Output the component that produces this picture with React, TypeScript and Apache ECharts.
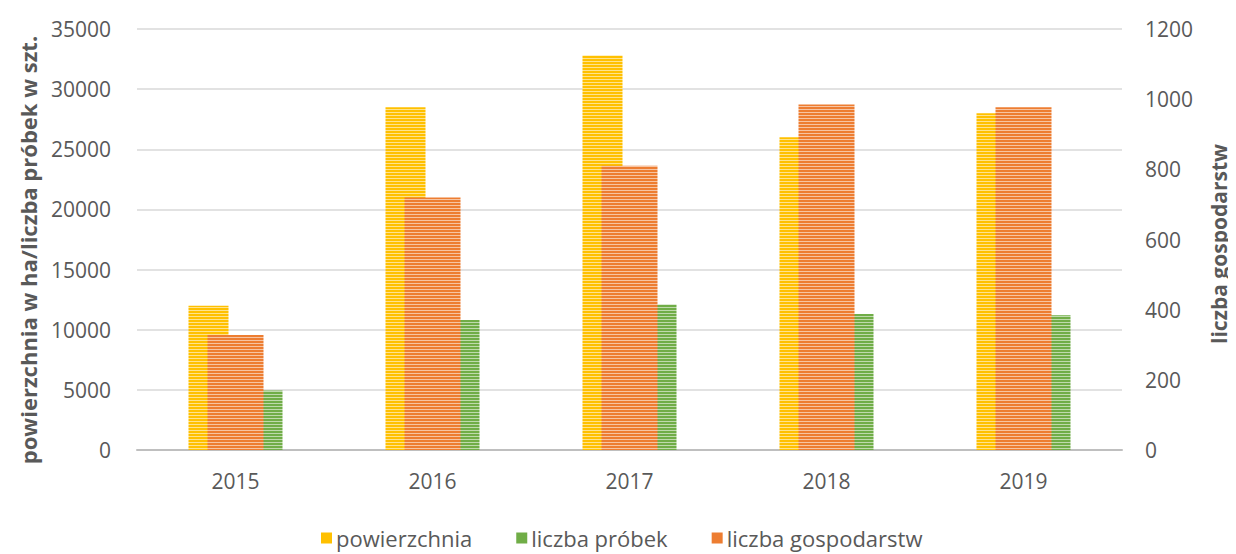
import React, { useEffect, useRef } from "react";
import * as echarts from "echarts";

const categories = ["2015", "2016", "2017", "2018", "2019"];
const powierzchnia = [12000, 28500, 32800, 26000, 28000];
const liczbaProbek = [4950, 10800, 12100, 11300, 11200];
const liczbaGospodarstw = [328, 720, 810, 985, 977];
const leftTicks = { min: 0, max: 35000, interval: 5000 };
const rightTicks = { min: 0, max: 1200, interval: 200 };
const leftAxisName = "powierzchnia w ha/liczba próbek w szt.";
const rightAxisName = "liczba gospodarstw";

const FONT = "'Open Sans', sans-serif";
const GREY = "#595959";
const YELLOW = "#FFC000";
const GREEN = "#70AD47";
const ORANGE = "#ED7D31";

function stripePattern(c: string) {
  const cv = document.createElement("canvas");
  cv.width = 4;
  cv.height = 3;
  const ctx = cv.getContext("2d")!;
  ctx.fillStyle = c;
  ctx.fillRect(0, 0, 4, 3);
  ctx.fillStyle = "rgba(255,255,255,0.55)";
  ctx.fillRect(0, 2, 4, 1);
  return { image: cv.toDataURL(), repeat: "repeat" };
}

export default function App() {
  const ref = useRef<HTMLDivElement>(null);
  useEffect(() => {
    if (!ref.current) return;
    const chart = echarts.init(ref.current, undefined, { renderer: "svg" });
    const fmt = (v: number) => String(v);
    const nameStyle = (text: string, size: number) => ({
      text,
      fill: GREY,
      font: `bold ${size}px ${FONT}`,
      fontFamily: FONT,
      fontSize: size,
      fontWeight: "bold",
      align: "center",
      verticalAlign: "middle",
      textAlign: "center",
      textVerticalAlign: "middle",
    });
    chart.setOption({
      animation: false,
      textStyle: { fontFamily: FONT },
      grid: { left: 129, right: 114, top: 21, bottom: 104 },
      graphic: [
        { type: "text", x: 20, y: 242, rotation: Math.PI / 2, style: nameStyle(leftAxisName, 22) },
        { type: "text", x: 1211, y: 236, rotation: Math.PI / 2, style: nameStyle(rightAxisName, 21) },
      ],
      legend: {
        top: 514,
        left: 308,
        itemWidth: 11,
        itemHeight: 11,
        itemGap: 44,
        icon: "rect",
        textStyle: { fontFamily: FONT, fontSize: 22, color: GREY, padding: [0, 0, 0, -1] },
        data: [
          { name: "powierzchnia", itemStyle: { color: YELLOW } },
          { name: "liczba próbek", itemStyle: { color: GREEN } },
          { name: "liczba gospodarstw", itemStyle: { color: ORANGE } },
        ],
      },
      xAxis: [
        {
          type: "category",
          data: categories,
          axisLine: { lineStyle: { color: "#bfbfbf", width: 2 } },
          axisTick: { show: false },
          axisLabel: { color: GREY, fontSize: 21, margin: 20, fontFamily: FONT },
        },
        {
          type: "category",
          data: categories,
          show: false,
        },
      ],
      yAxis: [
        {
          type: "value",
          ...leftTicks,
          axisLine: { show: false },
          axisTick: { show: false },
          axisLabel: { color: GREY, fontSize: 21, margin: 26, fontFamily: FONT, formatter: fmt },
          splitLine: { lineStyle: { color: "#d9d9d9", width: 1.5 } },
        },
        {
          type: "value",
          ...rightTicks,
          axisLine: { show: false },
          axisTick: { show: false },
          axisLabel: { color: GREY, fontSize: 21, margin: 23, fontFamily: FONT, formatter: fmt },
          splitLine: { show: false },
        },
      ],
      series: [
        {
          name: "powierzchnia",
          type: "bar",
          xAxisIndex: 0,
          yAxisIndex: 0,
          data: powierzchnia,
          barWidth: 40,
          barGap: "35%",
          itemStyle: { color: stripePattern(YELLOW) },
        },
        {
          name: "liczba próbek",
          type: "bar",
          xAxisIndex: 0,
          yAxisIndex: 0,
          data: liczbaProbek,
          barWidth: 40,
          barGap: "35%",
          itemStyle: { color: stripePattern(GREEN) },
        },
        {
          name: "liczba gospodarstw",
          type: "bar",
          xAxisIndex: 1,
          yAxisIndex: 1,
          data: liczbaGospodarstw,
          barWidth: 56,
          itemStyle: { color: stripePattern(ORANGE) },
        },
      ],
    });
    return () => chart.dispose();
  }, []);
  return <div ref={ref} style={{ width: 1228, height: 546 }} />;
}
